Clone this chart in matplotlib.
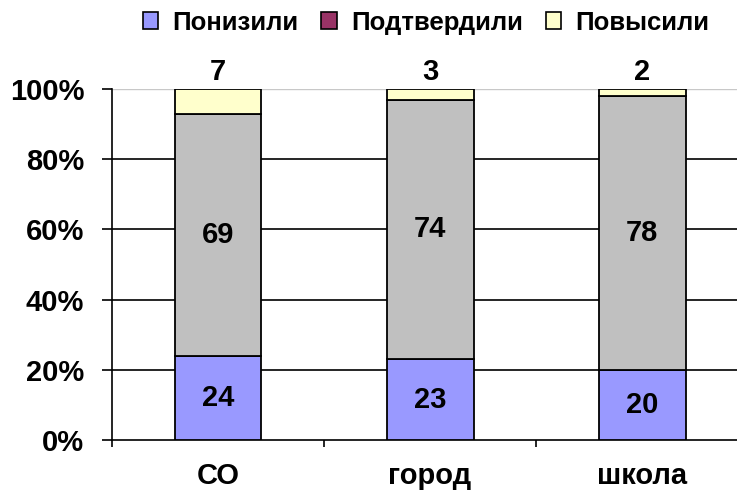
import matplotlib
matplotlib.use('Agg')
import matplotlib.pyplot as plt
from matplotlib.patches import Patch
from matplotlib.ticker import FixedLocator, PercentFormatter

plt.rcParams['font.family'] = ['Liberation Sans', 'DejaVu Sans']
plt.rcParams['font.weight'] = 'bold'

# данные
categories = ['СО', 'город', 'школа']
series_names = ['Понизили', 'Подтвердили', 'Повысили']
lowered = [24, 23, 20]
confirmed = [69, 74, 78]
raised = [7, 3, 2]

bar_colors = ['#9999FF', '#C0C0C0', '#FFFFCC']
legend_colors = ['#9999FF', '#993366', '#FFFFCC']

fig = plt.figure(figsize=(7.37, 4.97), dpi=100)
ax = fig.add_axes([0.152, 0.1147, 0.863, 0.7062])

x = list(range(len(categories)))
w = 0.41
bottom2 = [a + b for a, b in zip(lowered, confirmed)]

ax.bar(x, lowered, w, color=bar_colors[0], edgecolor='black', linewidth=1.3, zorder=3)
ax.bar(x, confirmed, w, bottom=lowered, color=bar_colors[1], edgecolor='black', linewidth=1.3, zorder=3)
ax.bar(x, raised, w, bottom=bottom2, color=bar_colors[2], edgecolor='black', linewidth=1.3, zorder=3)

# подписи значений
fs = 21
for i in x:
    ax.text(i, lowered[i] / 2, str(lowered[i]), ha='center', va='center',
            fontsize=fs, fontweight='bold', zorder=4)
    ax.text(i, lowered[i] + confirmed[i] / 2, str(confirmed[i]), ha='center', va='center',
            fontsize=fs, fontweight='bold', zorder=4)
    ax.text(i, 100 + 0.8, str(raised[i]), ha='center', va='bottom',
            fontsize=fs, fontweight='bold', zorder=4)

ax.set_xlim(-0.5, 2.5)
ax.set_ylim(0, 100)

# сетка
for v in [20, 40, 60, 80]:
    ax.axhline(v, color='black', linewidth=1.2, zorder=1)
ax.axhline(100, color='#C8C8C8', linewidth=1.0, zorder=1)

ax.yaxis.set_major_locator(FixedLocator([0, 20, 40, 60, 80, 100]))
ax.yaxis.set_major_formatter(PercentFormatter(100, decimals=0))
ax.tick_params(axis='y', direction='out', length=7, width=1.2, pad=13, labelsize=fs)

ax.set_xticks(x)
ax.set_xticklabels(categories)
ax.set_xticks([-0.5, 0.5, 1.5, 2.5], minor=True)
ax.tick_params(axis='x', which='major', length=0, pad=16, labelsize=fs)
ax.tick_params(axis='x', which='minor', direction='out', length=5, width=1.2)

for s in ['top', 'right']:
    ax.spines[s].set_visible(False)
ax.spines['left'].set_linewidth(1.2)
ax.spines['bottom'].set_linewidth(1.2)

handles = [Patch(facecolor=c, edgecolor='black', linewidth=1.2) for c in legend_colors]
fig.legend(handles, series_names, loc='upper center', bbox_to_anchor=(0.578, 1.025),
           ncol=3, frameon=False, handlelength=0.6, handleheight=0.6,
           handletextpad=0.55, columnspacing=0.9, prop={'weight': 'bold', 'size': 18.5})

fig.savefig('out.png', dpi=100)
